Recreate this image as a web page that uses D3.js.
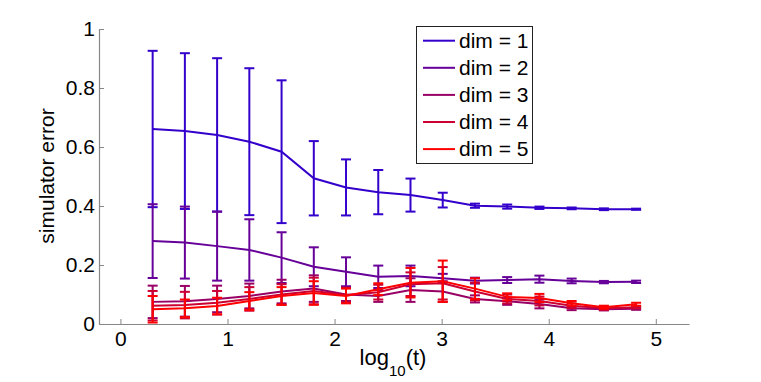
<!DOCTYPE html>
<html>
<head>
<meta charset="utf-8">
<script src="https://cdn.jsdelivr.net/npm/d3@7"></script>
<style>
  body { margin: 0; background: #fff; }
  text { font-family: "Liberation Sans", Arial, sans-serif; }
</style>
</head>
<body>
<div id="chart"></div>
<script>
// log10(t), t = 2, 4, 8, ... 65536
const logT = [0.301, 0.602, 0.903, 1.204, 1.505, 1.806, 2.107, 2.408, 2.709, 3.010, 3.311, 3.612, 3.913, 4.214, 4.515, 4.816];

const dims = ["dim = 1", "dim = 2", "dim = 3", "dim = 4", "dim = 5"];
const colors = ["#3300cc", "#660099", "#990066", "#cc0033", "#ff0000"];

const mean1 = [0.661, 0.654, 0.641, 0.618, 0.584, 0.494, 0.463, 0.447, 0.437, 0.420, 0.401, 0.398, 0.394, 0.392, 0.389, 0.389];
const err1  = [0.265, 0.264, 0.260, 0.249, 0.242, 0.126, 0.095, 0.075, 0.056, 0.025, 0.007, 0.007, 0.004, 0.003, 0.003, 0.002];
const mean2 = [0.281, 0.276, 0.264, 0.251, 0.225, 0.194, 0.177, 0.160, 0.163, 0.155, 0.147, 0.149, 0.152, 0.146, 0.142, 0.143];
const err2  = [0.125, 0.122, 0.117, 0.104, 0.086, 0.066, 0.049, 0.038, 0.035, 0.015, 0.010, 0.010, 0.012, 0.008, 0.004, 0.004];
const mean3 = [0.075, 0.077, 0.085, 0.095, 0.110, 0.120, 0.100, 0.095, 0.115, 0.110, 0.085, 0.077, 0.068, 0.053, 0.050, 0.052];
const err3  = [0.055, 0.052, 0.045, 0.042, 0.040, 0.045, 0.022, 0.020, 0.040, 0.035, 0.012, 0.012, 0.015, 0.006, 0.004, 0.004];
const mean4 = [0.062, 0.064, 0.072, 0.085, 0.100, 0.112, 0.098, 0.108, 0.135, 0.138, 0.110, 0.085, 0.078, 0.062, 0.053, 0.057];
const err4  = [0.050, 0.045, 0.040, 0.040, 0.035, 0.045, 0.025, 0.025, 0.040, 0.055, 0.030, 0.015, 0.015, 0.008, 0.005, 0.004];
const mean5 = [0.050, 0.053, 0.061, 0.078, 0.095, 0.105, 0.095, 0.118, 0.140, 0.145, 0.120, 0.092, 0.088, 0.070, 0.057, 0.067];
const err5  = [0.045, 0.030, 0.028, 0.030, 0.030, 0.040, 0.025, 0.020, 0.050, 0.070, 0.035, 0.012, 0.014, 0.008, 0.005, 0.005];

const xTicks = [0, 1, 2, 3, 4, 5];
const yTicks = [0, 0.2, 0.4, 0.6, 0.8, 1];

const means = [mean1, mean2, mean3, mean4, mean5];
const errs = [err1, err2, err3, err4, err5];

const width = 761;
const height = 382;
const svg = d3.select("#chart")
  .append("svg")
  .attr("width", width)
  .attr("height", height);

// scales
const x = d3.scaleLinear()
  .domain([-0.2, 5.31])
  .range([99, 689]);
const y = d3.scaleLinear()
  .domain([0, 1])
  .range([324, 29]);

// axes (matlab style, ticks pointing in)
const xAxis = svg.append("g")
  .attr("transform", `translate(0, ${y(0)})`)
  .call(d3.axisBottom(x).tickValues(xTicks).tickFormat(d3.format("d"))
    .tickSizeInner(-5).tickSizeOuter(0).tickPadding(7));
const yAxis = svg.append("g")
  .attr("transform", `translate(${x(-0.2)}, 0)`)
  .call(d3.axisLeft(y).tickValues(yTicks).tickFormat(d3.format("~g"))
    .tickSizeInner(-5).tickSizeOuter(0).tickPadding(4));

[xAxis, yAxis].forEach(g => {
  g.select(".domain").attr("stroke", "#888").attr("stroke-width", 1.2);
  g.selectAll(".tick line").attr("stroke", "#888");
  g.selectAll(".tick text")
    .attr("fill", "#000")
    .style("font-size", "21px")
    .style("font-family", "'Liberation Sans', Arial, sans-serif");
});

// series
const line = d3.line()
  .x((d, i) => x(logT[i]))
  .y(d => y(d));

means.forEach((m, k) => {
  const g = svg.append("g").attr("stroke", colors[k]).attr("stroke-width", 2).attr("fill", "none");
  const bars = g.selectAll(".bar")
    .data(m.map((v, i) => ({ x: logT[i], lo: v - errs[k][i], hi: v + errs[k][i] })))
    .join("g");
  bars.append("line")
    .attr("x1", d => x(d.x)).attr("x2", d => x(d.x))
    .attr("y1", d => y(d.lo)).attr("y2", d => y(d.hi));
  bars.append("line")
    .attr("x1", d => x(d.x) - 5).attr("x2", d => x(d.x) + 5)
    .attr("y1", d => y(d.lo)).attr("y2", d => y(d.lo));
  bars.append("line")
    .attr("x1", d => x(d.x) - 5).attr("x2", d => x(d.x) + 5)
    .attr("y1", d => y(d.hi)).attr("y2", d => y(d.hi));
  g.append("path")
    .datum(m)
    .attr("d", line);
});

// axis labels
svg.append("text")
  .attr("transform", "rotate(-90)")
  .attr("x", -176)
  .attr("y", 54)
  .attr("text-anchor", "middle")
  .style("font-size", "21px")
  .text("simulator error");

const xl = svg.append("text")
  .attr("x", 393)
  .attr("y", 365)
  .attr("text-anchor", "middle")
  .style("font-size", "22px");
xl.append("tspan").text("log");
xl.append("tspan").attr("dy", 11).style("font-size", "15px").text("10");
xl.append("tspan").attr("dy", -11).text("(t)");

// legend
const legend = svg.append("g");
legend.append("rect")
  .attr("x", 416.5).attr("y", 26.5)
  .attr("width", 116).attr("height", 137)
  .attr("fill", "#fff").attr("stroke", "#222").attr("stroke-width", 1);
dims.forEach((name, k) => {
  const ly = 40.7 + k * 27.1;
  legend.append("line")
    .attr("x1", 423).attr("x2", 455)
    .attr("y1", ly).attr("y2", ly)
    .attr("stroke", colors[k]).attr("stroke-width", 2);
  legend.append("text")
    .attr("x", 459).attr("y", ly)
    .attr("dy", "0.35em")
    .style("font-size", "21px")
    .text(name);
});
</script>
</body>
</html>
